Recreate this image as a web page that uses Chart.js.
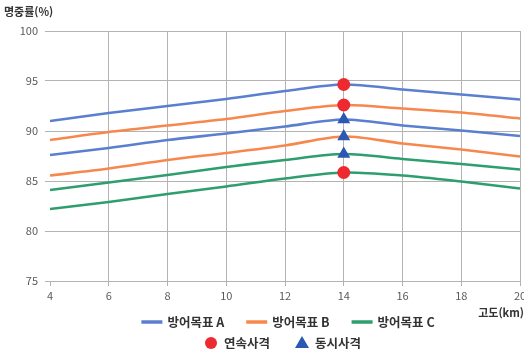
<!DOCTYPE html>
<html lang="ko">
<head>
<meta charset="utf-8">
<title>명중률</title>
<script src="https://cdn.jsdelivr.net/npm/chart.js@4/dist/chart.umd.min.js"></script>
<style>
  html, body { margin: 0; padding: 0; background: #ffffff; }
  #wrap { width: 524px; height: 351px; position: relative; }
</style>
</head>
<body>
<div id="wrap"><canvas id="chart" width="524" height="351"></canvas></div>
<script>
// 고도(km)
const altitudes = [4, 6, 8, 10, 12, 14, 16, 18, 20];

// 명중률(%) — 방어목표별 연속사격 / 동시사격
const targetA_continuous   = [91.0, 91.8, 92.5, 93.2, 94.0, 94.65, 94.15, 93.65, 93.15];
const targetA_simultaneous = [87.6, 88.3, 89.1, 89.75, 90.45, 91.15, 90.55, 90.05, 89.5];
const targetB_continuous   = [89.1, 89.9, 90.55, 91.2, 92.0, 92.6, 92.25, 91.85, 91.25];
const targetB_simultaneous = [85.55, 86.25, 87.1, 87.8, 88.55, 89.45, 88.75, 88.15, 87.45];
const targetC_continuous   = [82.2, 82.9, 83.7, 84.45, 85.25, 85.85, 85.55, 84.95, 84.25];
const targetC_simultaneous = [84.1, 84.85, 85.6, 86.4, 87.1, 87.7, 87.2, 86.7, 86.15];

// 최대 명중률 고도 표시
const markAltitude = 14;

const xTicks = [4, 6, 8, 10, 12, 14, 16, 18, 20];
const yTicks = [75, 80, 85, 90, 95, 100];

const seriesNames = ['방어목표 A', '방어목표 B', '방어목표 C'];
const markerNames = ['연속사격', '동시사격'];

const COLORS = {
  A: '#5B7FCF',
  B: '#F6884E',
  C: '#2F9E6E',
  circle: '#EC2A2F',
  triangle: '#2B58B2',
  grid: '#B3B3B3',
  text: '#595959',
  title: '#333333'
};

const toPoints = ys => altitudes.map((x, i) => ({ x, y: ys[i] }));
const at = ys => ({ x: markAltitude, y: ys[altitudes.indexOf(markAltitude)] });

const lineDs = (label, ys, color) => ({
  label, data: toPoints(ys), borderColor: color, backgroundColor: color,
  borderWidth: 2.6, pointRadius: 0, tension: 0.3, fill: false, order: 2
});
const markDs = (label, pts, style, color, r) => ({
  label, data: pts, type: 'scatter', showLine: false,
  pointStyle: style, pointRadius: r, pointHoverRadius: r,
  pointBackgroundColor: color, pointBorderColor: color, pointBorderWidth: 0, order: 1
});

const FONT = "'Noto Sans CJK KR', 'Noto Sans', sans-serif";

// 축 제목 및 범례
const decorations = {
  id: 'decorations',
  afterDraw(chart) {
    const c = chart.ctx;
    c.save();
    c.fillStyle = COLORS.title;
    c.font = `bold 11px ${FONT}`;
    c.textBaseline = 'middle';
    c.textAlign = 'left';
    c.fillText('명중률(%)', 4, 12);
    c.textAlign = 'right';
    c.fillText('고도(km)', 524, 313);

    c.font = `bold 12.5px ${FONT}`;
    c.textAlign = 'left';
    const row1 = [
      { name: seriesNames[0], color: COLORS.A },
      { name: seriesNames[1], color: COLORS.B },
      { name: seriesNames[2], color: COLORS.C }
    ];
    const sw = 21, gapText = 5, gapItem = 22;
    let total = row1.reduce((s, it) => s + sw + gapText + c.measureText(it.name).width, 0) + gapItem * (row1.length - 1);
    let x = 288 - total / 2;
    const y1 = 322;
    row1.forEach(it => {
      c.strokeStyle = it.color;
      c.lineWidth = 3.5;
      c.beginPath();
      c.moveTo(x, y1);
      c.lineTo(x + sw, y1);
      c.stroke();
      x += sw + gapText;
      c.fillText(it.name, x, y1 + 0.5);
      x += c.measureText(it.name).width + gapItem;
    });

    const y2 = 343;
    const msz = 12;
    const row2 = [
      { name: markerNames[0], kind: 'circle' },
      { name: markerNames[1], kind: 'triangle' }
    ];
    total = row2.reduce((s, it) => s + msz + 7 + c.measureText(it.name).width, 0) + 26;
    x = 283 - total / 2;
    row2.forEach(it => {
      const cx = x + msz / 2;
      if (it.kind === 'circle') {
        c.fillStyle = COLORS.circle;
        c.beginPath();
        c.arc(cx, y2, 6, 0, Math.PI * 2);
        c.fill();
      } else {
        c.fillStyle = COLORS.triangle;
        c.beginPath();
        c.moveTo(cx, y2 - 7);
        c.lineTo(cx + 7, y2 + 5);
        c.lineTo(cx - 7, y2 + 5);
        c.closePath();
        c.fill();
      }
      x += msz + 7;
      c.fillStyle = COLORS.title;
      c.fillText(it.name, x, y2 + 0.5);
      x += c.measureText(it.name).width + 26;
    });
    c.restore();
  }
};

new Chart(document.getElementById('chart'), {
  type: 'line',
  data: {
    datasets: [
      lineDs(seriesNames[0] + ' 연속', targetA_continuous, COLORS.A),
      lineDs(seriesNames[1] + ' 연속', targetB_continuous, COLORS.B),
      lineDs(seriesNames[0] + ' 동시', targetA_simultaneous, COLORS.A),
      lineDs(seriesNames[1] + ' 동시', targetB_simultaneous, COLORS.B),
      lineDs(seriesNames[2] + ' 동시', targetC_simultaneous, COLORS.C),
      lineDs(seriesNames[2] + ' 연속', targetC_continuous, COLORS.C),
      markDs(markerNames[0], [at(targetA_continuous), at(targetB_continuous), at(targetC_continuous)], 'circle', COLORS.circle, 6.5),
      markDs(markerNames[1], [at(targetA_simultaneous), at(targetB_simultaneous), at(targetC_simultaneous)], 'triangle', COLORS.triangle, 7.5)
    ]
  },
  options: {
    responsive: false,
    animation: false,
    devicePixelRatio: 1,
    layout: { autoPadding: false, padding: { top: 31, right: 4, bottom: 0, left: 0 } },
    plugins: { legend: { display: false }, tooltip: { enabled: false } },
    scales: {
      x: {
        type: 'linear', min: 4, max: 20,
        afterBuildTicks: s => { s.ticks = xTicks.map(v => ({ value: v })); },
        afterFit: s => { s.height = 70; s.paddingLeft = 0; s.paddingRight = 0; },
        ticks: { color: COLORS.text, font: { family: FONT, size: 11 }, padding: 3, maxRotation: 0 },
        grid: {
          color: ctx => (ctx.tick && ctx.tick.value === 4) ? 'rgba(0,0,0,0)' : COLORS.grid,
          tickColor: COLORS.grid, tickLength: 5, lineWidth: 1
        },
        border: { display: true, color: COLORS.grid, width: 1 }
      },
      y: {
        min: 75, max: 100,
        afterBuildTicks: s => { s.ticks = yTicks.map(v => ({ value: v })); },
        afterFit: s => { s.width = 50; s.paddingTop = 0; s.paddingBottom = 0; },
        ticks: { color: COLORS.text, font: { family: FONT, size: 11 }, padding: 7 },
        grid: {
          color: ctx => (ctx.tick && ctx.tick.value === 75) ? 'rgba(0,0,0,0)' : COLORS.grid,
          tickColor: COLORS.grid, tickLength: 5, lineWidth: 1
        },
        border: { display: false }
      }
    }
  },
  plugins: [decorations]
});
</script>
</body>
</html>
